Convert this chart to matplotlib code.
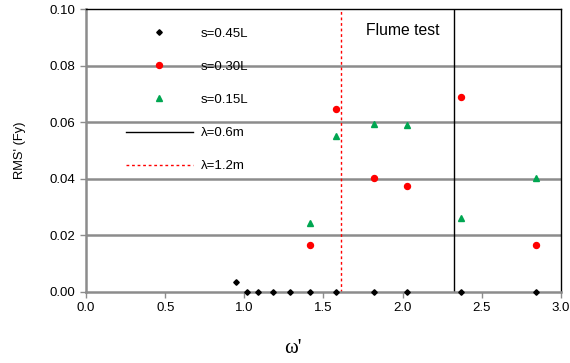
import matplotlib.pyplot as plt
from matplotlib.lines import Line2D

# Data
x_s045 = [0.946, 1.015, 1.088, 1.18, 1.29, 1.417, 1.577, 1.82, 2.028, 2.367, 2.84]
y_s045 = [0.0035, 0.0, 0.0, 0.0, 0.0, 0.0, 0.0, 0.0, 0.0, 0.0, 0.0]

x_s030 = [1.417, 1.577, 1.82, 2.028, 2.367, 2.84]
y_s030 = [0.0164, 0.0647, 0.0402, 0.0375, 0.0689, 0.0165]

x_s015 = [1.417, 1.577, 1.82, 2.028, 2.367, 2.84]
y_s015 = [0.0245, 0.0552, 0.0593, 0.0591, 0.026, 0.0404]

lam_06 = 2.327
lam_12 = 1.613

xticks = [0.0, 0.5, 1.0, 1.5, 2.0, 2.5, 3.0]
yticks = [0.00, 0.02, 0.04, 0.06, 0.08, 0.10]

plt.rcParams['font.family'] = ['Liberation Sans', 'DejaVu Sans']

fig = plt.figure(figsize=(5.7, 3.63), dpi=100)
ax = fig.add_axes([0.151, 0.196, 0.833, 0.779])

grid_col = '#8c8c8c'
for yv in yticks[1:-1]:
    ax.axhline(yv, color=grid_col, linewidth=1.8, zorder=1)

ax.axvline(lam_06, color='black', linewidth=1.0, zorder=2)
ax.axvline(lam_12, color='red', linewidth=1.0, linestyle=(0, (2, 2)), zorder=2)

d_style = dict(linestyle='none', marker='D', markersize=2.8, color='black')
o_style = dict(linestyle='none', marker='o', markersize=4.3, color='#ff0000')
t_style = dict(linestyle='none', marker='^', markersize=4.0, color='#00a651')

ax.plot(x_s045, y_s045, zorder=4, clip_on=False, **d_style)
ax.plot(x_s030, y_s030, zorder=4, **o_style)
ax.plot(x_s015, y_s015, zorder=4, **t_style)

ax.set_xlim(0, 3.0)
ax.set_ylim(0, 0.10)
ax.set_xticks(xticks)
ax.set_yticks(yticks)
ax.set_xticklabels([f'{v:.1f}' for v in xticks])
ax.set_yticklabels([f'{v:.2f}' for v in yticks])
ax.tick_params(axis='both', labelsize=9.5, length=4, width=1.0, color=grid_col)

for side in ['left', 'bottom']:
    ax.spines[side].set_color(grid_col)
    ax.spines[side].set_linewidth(1.8)
for side in ['top', 'right']:
    ax.spines[side].set_color('black')
    ax.spines[side].set_linewidth(1.0)

ax.text(2.0, 0.0926, 'Flume test', fontsize=11.3, ha='center', va='center')

handles = [
    Line2D([], [], **d_style),
    Line2D([], [], **o_style),
    Line2D([], [], **t_style),
    Line2D([], [], color='black', linewidth=1.0),
    Line2D([], [], color='red', linewidth=1.0, linestyle=(0, (2, 2))),
]
labels = ['s=0.45L', 's=0.30L', 's=0.15L', 'λ=0.6m', 'λ=1.2m']
ax.legend(handles, labels, loc='upper left', bbox_to_anchor=(0.073, 0.953),
          frameon=False, fontsize=9.5, handlelength=5.07, handletextpad=0.6,
          labelspacing=1.58, borderaxespad=0)

ax.set_ylabel("RMS' (Fy)", fontsize=9.3)
ax.yaxis.set_label_coords(-0.126, 0.5)
fig.text(0.514, 0.041, "ω'", fontsize=15, family='Liberation Serif',
         ha='center', va='center')

fig.savefig('out.png', dpi=100)
